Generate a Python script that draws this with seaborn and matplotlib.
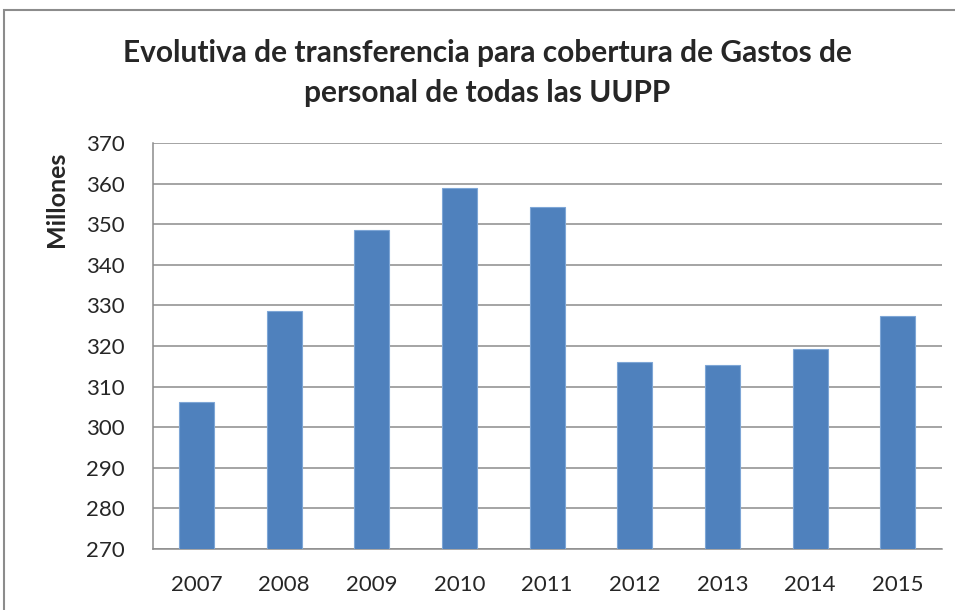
import numpy as np
import pandas as pd
import seaborn as sns
import matplotlib.pyplot as plt
from matplotlib.patches import Rectangle

# datos
anios = ["2007", "2008", "2009", "2010", "2011", "2012", "2013", "2014", "2015"]
millones = [306.1, 328.7, 348.6, 358.8, 354.2, 316.0, 315.3, 319.2, 327.5]
y_ticks = [270, 280, 290, 300, 310, 320, 330, 340, 350, 360, 370]

titulo = "Evolutiva de transferencia para cobertura de Gastos de\npersonal de todas las UUPP"


def main():
    sns.set_style("white")
    plt.rcParams["font.family"] = ["Lato", "DejaVu Sans"]

    df = pd.DataFrame({"anio": anios, "valor": millones})

    fig = plt.figure(figsize=(9.55, 6.10), dpi=100)
    ax = fig.add_axes([0.160, 0.100, 0.826, 0.6656])

    sns.barplot(data=df, x="anio", y="valor", color="#4F81BD", width=0.4,
                edgecolor="#7EA6D6", linewidth=0.8, saturation=1, ax=ax, zorder=3)

    ax.set_ylim(270, 370)
    ax.set_xlim(-0.5, len(anios) - 0.5)
    ax.set_yticks(y_ticks)
    ax.set_yticklabels([str(t) for t in y_ticks], fontsize=16)
    ax.set_xticks(range(len(anios)))
    ax.set_xticklabels(anios, fontsize=16)
    ax.set_xticks(np.arange(-0.5, len(anios)), minor=True)

    ax.yaxis.grid(True, color="#8C8C8C", linewidth=1.1, zorder=0)
    ax.set_axisbelow(True)
    ax.tick_params(axis="y", which="major", length=6, color="#8C8C8C", width=1.1, pad=14)
    ax.tick_params(axis="x", which="major", length=0, pad=19)
    ax.tick_params(axis="x", which="minor", length=7, color="#8C8C8C", width=1.1)

    for s in ["top", "right"]:
        ax.spines[s].set_visible(False)
    for s in ["left", "bottom"]:
        ax.spines[s].set_color("#8C8C8C")
        ax.spines[s].set_linewidth(1.1)

    ax.set_xlabel("")
    ax.set_ylabel("")
    fig.text(57 / 955, 1 - 199 / 610, "Millones", rotation=90, fontsize=18,
             fontweight="bold", ha="center", va="center")

    fig.text(487 / 955, 1 - 73 / 610, titulo, ha="center", va="center", fontsize=21.5,
             fontweight="bold", linespacing=1.55)

    # borde del area del grafico
    fig.patches.append(Rectangle((4 / 955, -0.05), 1.1, 1 - 10 / 610 + 0.05,
                                 transform=fig.transFigure, fill=False,
                                 edgecolor="#8C8C8C", linewidth=1.5))

    fig.savefig("out.png", dpi=100)


if __name__ == "__main__":
    main()
